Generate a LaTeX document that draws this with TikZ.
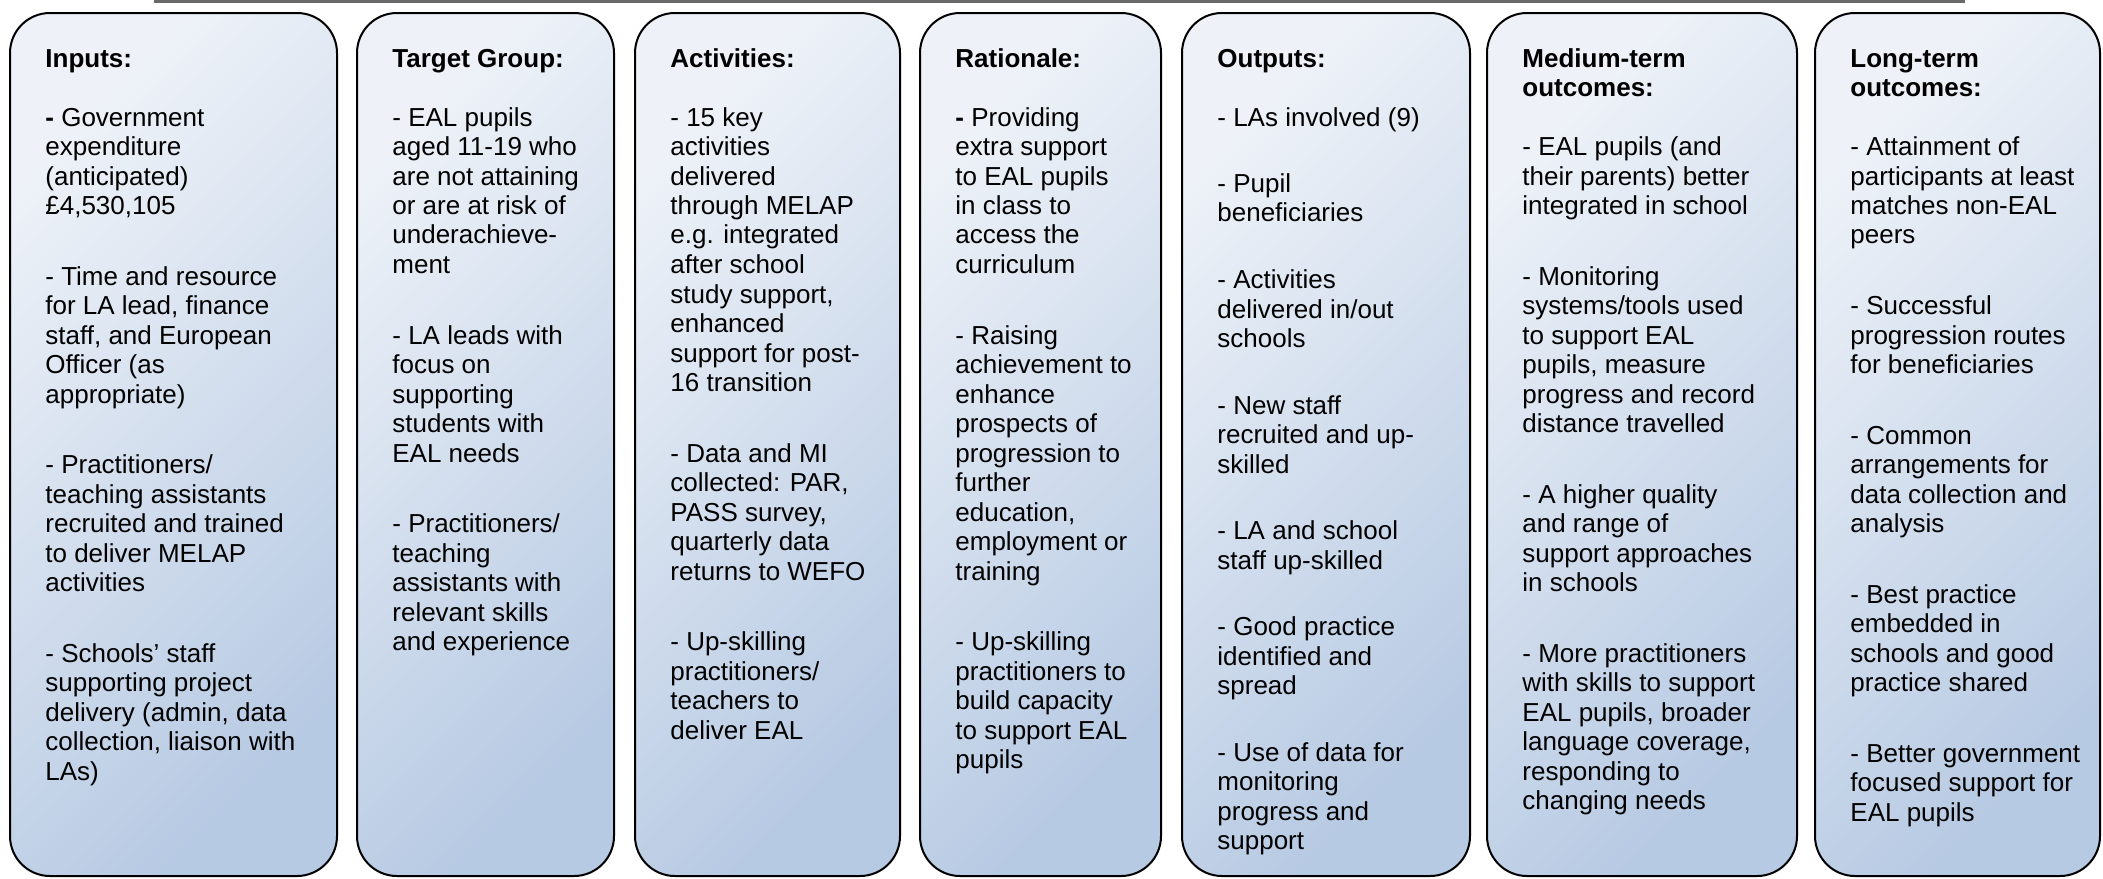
\documentclass[tikz,border=0pt]{standalone}
\usepackage{fontspec}
\setmainfont{Liberation Sans}
\definecolor{boxLight}{RGB}{238,242,248}
\definecolor{boxDark}{RGB}{183,202,227}
\definecolor{ruleColor}{RGB}{105,105,105}
\tikzstyle{logicPlan} = [x = 0.5pt, y = -0.5pt]
\tikzstyle{logicBox} = [draw=black, line width=1pt, rounded corners = 20pt, left color=boxLight, right color=boxDark, shading angle=45]
\tikzstyle{logicText} = [anchor=base west, inner sep=0pt, font=\fontsize{13}{14.75}\selectfont]
\tikzstyle{topRule} = [color=ruleColor, line width=1.5pt]
\newlength{\paraSkip}
\newcommand{\headGap}{\\[14.75pt]}
\newcommand{\itemGap}{\\[\paraSkip]}
\newcommand{\logicColumn}[5]{
  \path [logicBox] (#1, 13) rectangle (#2, 876);
  \setlength{\paraSkip}{#4}
  \node [logicText] (#3) at (#1 + 35, 67) {\parbox[t]{190pt}{#5}};
}

\begin{document}
\begin{tikzpicture}[logicPlan]
  \useasboundingbox (0,0) rectangle (2103,878);
  \draw [topRule] (154,1.5) -- (1965,1.5);

  \logicColumn{10}{337}{inputs}{20.5pt}{\textbf{Inputs:}\headGap
    \textbf{-} Government\\
    expenditure\\
    (anticipated)\\
    £4,530,105\itemGap
    - Time and resource\\
    for LA lead, finance\\
    staff, and European\\
    Officer (as\\
    appropriate)\itemGap
    - Practitioners/\\
    teaching assistants\\
    recruited and trained\\
    to deliver MELAP\\
    activities\itemGap
    - Schools’ staff\\
    supporting project\\
    delivery (admin, data\\
    collection, liaison with\\
    LAs)}

  \logicColumn{357}{614}{target}{20.5pt}{\textbf{Target Group:}\headGap
    - EAL pupils\\
    aged 11-19 who\\
    are not attaining\\
    or are at risk of\\
    underachieve-\\
    ment\itemGap
    - LA leads with\\
    focus on\\
    supporting\\
    students with\\
    EAL needs\itemGap
    - Practitioners/\\
    teaching\\
    assistants with\\
    relevant skills\\
    and experience}

  \logicColumn{635}{900}{activities}{20.5pt}{\textbf{Activities:}\headGap
    - 15 key\\
    activities\\
    delivered\\
    through MELAP\\
    e.g. integrated\\
    after school\\
    study support,\\
    enhanced\\
    support for post-\\
    16 transition\itemGap
    - Data and MI\\
    collected: PAR,\\
    PASS survey,\\
    quarterly data\\
    returns to WEFO\itemGap
    - Up-skilling\\
    practitioners/\\
    teachers to\\
    deliver EAL}

  \logicColumn{920}{1161}{rationale}{20.5pt}{\textbf{Rationale:}\headGap
    \textbf{-} Providing\\
    extra support\\
    to EAL pupils\\
    in class to\\
    access the\\
    curriculum\itemGap
    - Raising\\
    achievement to\\
    enhance\\
    prospects of\\
    progression to\\
    further\\
    education,\\
    employment or\\
    training\itemGap
    - Up-skilling\\
    practitioners to\\
    build capacity\\
    to support EAL\\
    pupils}

  \logicColumn{1182}{1470}{outputs}{18.5pt}{\textbf{Outputs:}\headGap
    - LAs involved (9)\itemGap
    - Pupil\\
    beneficiaries\itemGap
    - Activities\\
    delivered in/out\\
    schools\itemGap
    - New staff\\
    recruited and up-\\
    skilled\itemGap
    - LA and school\\
    staff up-skilled\itemGap
    - Good practice\\
    identified and\\
    spread\itemGap
    - Use of data for\\
    monitoring\\
    progress and\\
    support}

  \logicColumn{1487}{1797}{mediumTerm}{20.5pt}{\textbf{Medium-term}\\
    \textbf{outcomes:}\headGap
    - EAL pupils (and\\
    their parents) better\\
    integrated in school\itemGap
    - Monitoring\\
    systems/tools used\\
    to support EAL\\
    pupils, measure\\
    progress and record\\
    distance travelled\itemGap
    - A higher quality\\
    and range of\\
    support approaches\\
    in schools\itemGap
    - More practitioners\\
    with skills to support\\
    EAL pupils, broader\\
    language coverage,\\
    responding to\\
    changing needs}

  \logicColumn{1815}{2100}{longTerm}{20.5pt}{\textbf{Long-term}\\
    \textbf{outcomes:}\headGap
    - Attainment of\\
    participants at least\\
    matches non-EAL\\
    peers\itemGap
    - Successful\\
    progression routes\\
    for beneficiaries\itemGap
    - Common\\
    arrangements for\\
    data collection and\\
    analysis\itemGap
    - Best practice\\
    embedded in\\
    schools and good\\
    practice shared\itemGap
    - Better government\\
    focused support for\\
    EAL pupils}
\end{tikzpicture}
\end{document}
